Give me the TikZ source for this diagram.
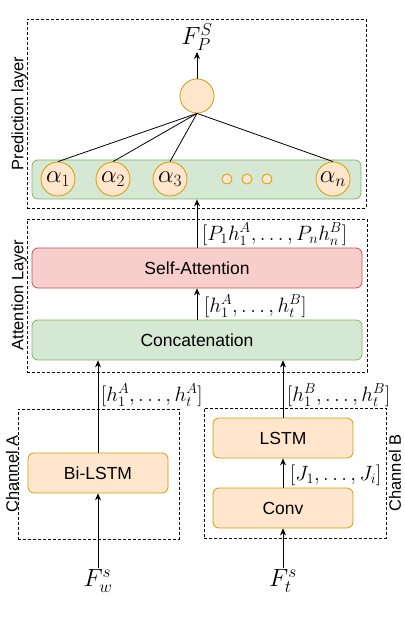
\documentclass[tikz,border=0pt]{standalone}
\usepackage{fontspec}
\setmainfont{Liberation Sans}
\usepackage{amsmath}
\usetikzlibrary{arrows.meta}
\definecolor{orfill}{HTML}{FFE6CC}
\definecolor{orline}{HTML}{D79B00}
\definecolor{grfill}{HTML}{D5E8D4}
\definecolor{grline}{HTML}{82B366}
\definecolor{rdfill}{HTML}{F8CECC}
\definecolor{rdline}{HTML}{B85450}
\tikzset{
  dashbox/.style={draw=black, dash pattern=on 3pt off 2pt, line width=0.8pt, inner sep=0pt},
  roundbox/.style={rounded corners=6pt, line width=0.8pt, inner sep=0pt,
    font=\fontsize{17.5}{20}\selectfont},
  orbox/.style={roundbox, draw=orline, fill=orfill},
  grbox/.style={roundbox, draw=grline, fill=grfill},
  rdbox/.style={roundbox, draw=rdline, fill=rdfill},
  acirc/.style={circle, draw=orline, fill=orfill, line width=0.8pt, inner sep=0pt,
    minimum size=34pt, font=\fontsize{23}{25}\selectfont},
  dotc/.style={circle, draw=orline, fill=orfill, line width=0.8pt, inner sep=0pt, minimum size=10pt},
  arr/.style={-{Stealth[length=7pt,width=6pt]}, line width=0.8pt},
  conn/.style={line width=0.8pt},
  sidelab/.style={rotate=90, inner sep=0pt, font=\fontsize{16.5}{18}\selectfont},
  mlab/.style={anchor=west, inner sep=0pt, font=\fontsize{20.5}{22}\selectfont},
}
\begin{document}
\begin{tikzpicture}[x=1pt,y=-1pt]
\useasboundingbox (0,0) rectangle (404,617);
% Prediction layer
\node[dashbox, minimum width=339pt, minimum height=189pt] (predbox) at (196.5,113.5) {};
\node[sidelab] (predlab) at (19,113.5) {Prediction layer};
\node[grbox, minimum width=329pt, minimum height=39pt] (gbar) at (196.5,179.5) {};
\node[acirc] (a1) at (58,179) {$\alpha_1$};
\node[acirc] (a2) at (113,179) {$\alpha_2$};
\node[acirc] (a3) at (170,179) {$\alpha_3$};
\node[acirc] (an) at (333,179) {$\alpha_n$};
\node[dotc] (d1) at (227,179) {};
\node[dotc] (d2) at (247,179) {};
\node[dotc] (d3) at (267,179) {};
\node[acirc] (top) at (197,96) {};
\node[anchor=south, inner sep=1pt, font=\fontsize{23}{25}\selectfont] (fps) at (197,52) {$F_P^S$};
\draw[arr] (top.north) -- (fps.south);
\foreach \a in {a1,a2,a3,an} \draw[conn] (top.south) -- (\a.north);
% Attention layer
\node[dashbox, minimum width=340pt, minimum height=153pt] (attbox) at (197,295.5) {};
\node[sidelab] (attlab) at (19,295) {Attention Layer};
\node[rdbox, minimum width=330pt, minimum height=40pt] (selfatt) at (197,268) {Self-Attention};
\node[grbox, minimum width=330pt, minimum height=40pt] (concat) at (197,340) {Concatenation};
\draw[arr] (selfatt.north) -- (selfatt.north |- gbar.south);
\draw[arr] (concat.north) -- (selfatt.south);
\node[mlab, font=\fontsize{21.8}{23}\selectfont] (lpn) at (202,234) {$[P_1h_1^A,\ldots,P_nh_n^B]$};
\node[mlab] (lht) at (204,306) {$[h_1^A,\ldots,h_t^B]$};
% Channel A
\node[dashbox, minimum width=161pt, minimum height=130pt] (chA) at (98.5,474) {};
\node[sidelab] (chAlab) at (12,474) {Channel A};
\node[orbox, minimum width=140pt, minimum height=40pt] (bilstm) at (98,473) {Bi-LSTM};
\node[anchor=north, inner sep=1pt, font=\fontsize{24}{26}\selectfont] (fws) at (98,568) {$F_w^s$};
\draw[arr] (fws.north) -- (bilstm.south);
\draw[arr] (bilstm.north) -- (bilstm.north |- concat.south);
\node[mlab] (lha) at (101,395) {$[h_1^A,\ldots,h_t^A]$};
% Channel B
\node[dashbox, minimum width=182pt, minimum height=130pt] (chB) at (295,473) {};
\node[sidelab] (chBlab) at (395,473) {Channel B};
\node[orbox, minimum width=140pt, minimum height=40pt] (lstm) at (283,438) {LSTM};
\node[orbox, minimum width=140pt, minimum height=40pt] (conv) at (283,508) {Conv};
\node[anchor=north, inner sep=1pt, font=\fontsize{24}{26}\selectfont] (fts) at (283,568) {$F_t^s$};
\draw[arr] (fts.north) -- (conv.south);
\draw[arr] (conv.north) -- (lstm.south);
\draw[arr] (lstm.north) -- (lstm.north |- concat.south);
\node[mlab] (lhb) at (287,395) {$[h_1^B,\ldots,h_t^B]$};
\node[mlab] (lj) at (290,475) {$[J_1,\ldots,J_i]$};
\end{tikzpicture}
\end{document}
